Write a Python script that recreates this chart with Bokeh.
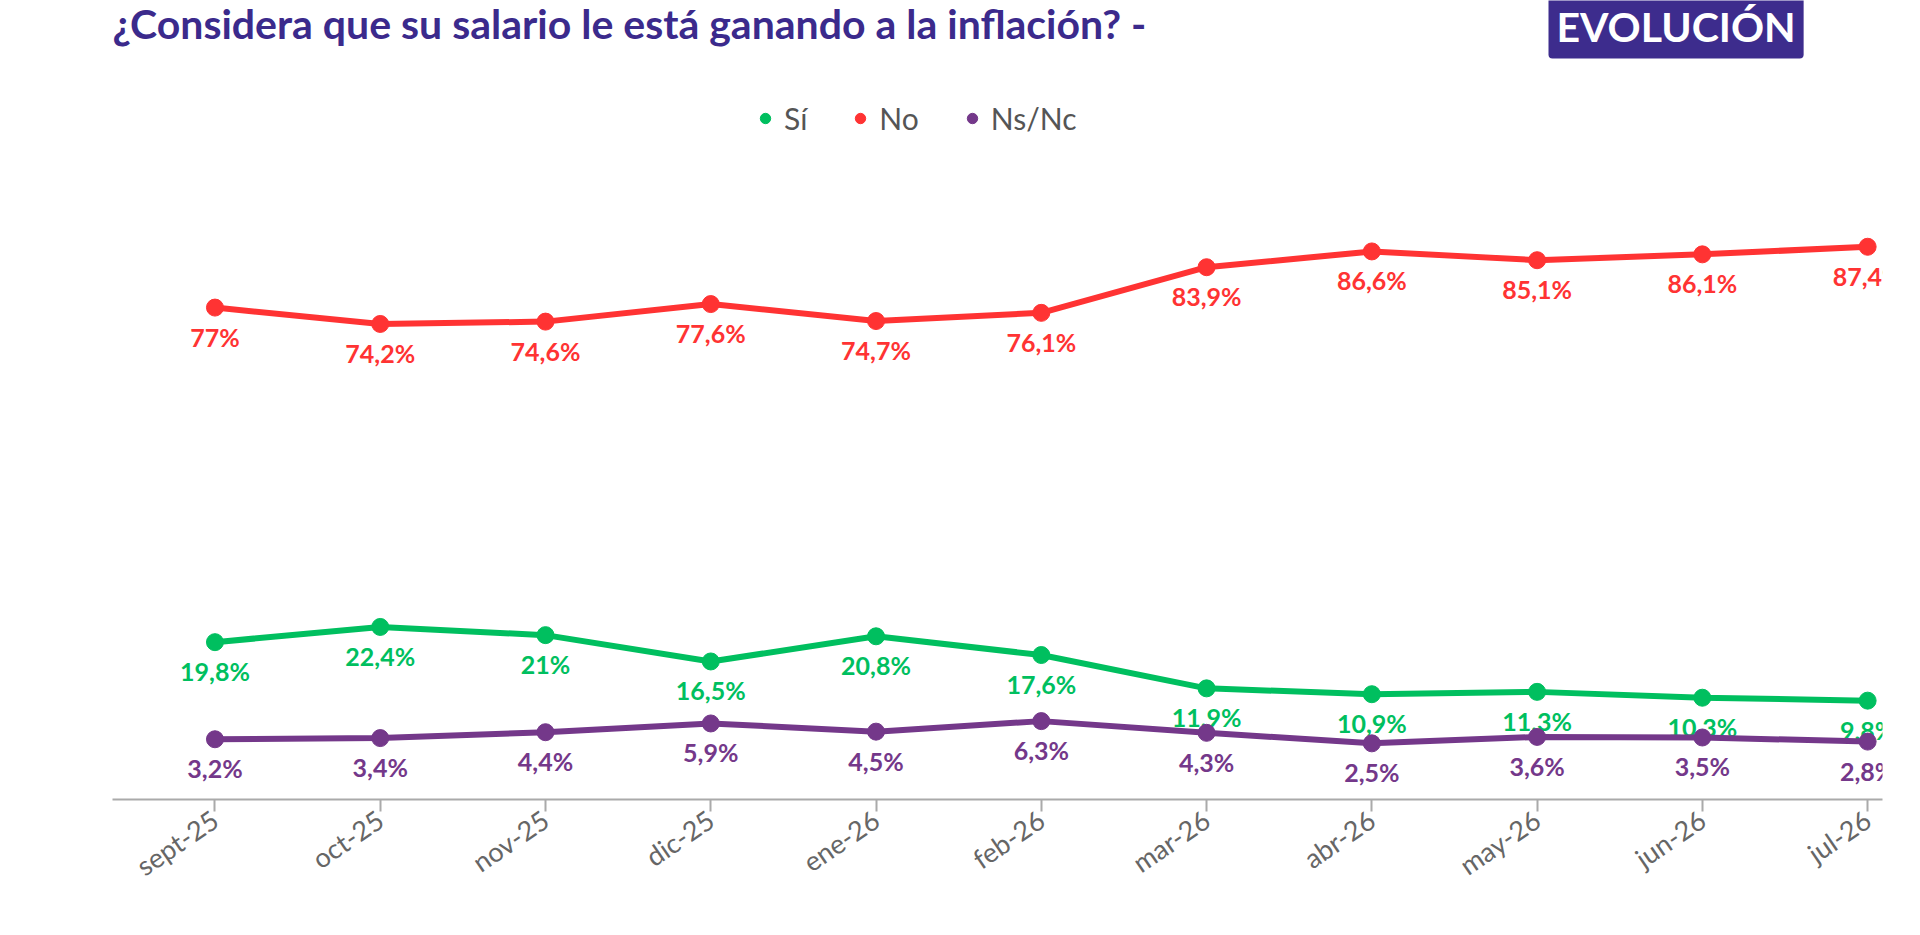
from bokeh.plotting import figure
from bokeh.models import ColumnDataSource, Label, Legend, LegendItem, Range1d, FixedTicker
from bokeh.embed import file_html
from bokeh.resources import INLINE

months = ["sept-25","oct-25","nov-25","dic-25","ene-26","feb-26","mar-26","abr-26","may-26","jun-26","jul-26"]
si = [19.8,22.4,21,16.5,20.8,17.6,11.9,10.9,11.3,10.3,9.8]
no = [77,74.2,74.6,77.6,74.7,76.1,83.9,86.6,85.1,86.1,87.4]
nsnc = [3.2,3.4,4.4,5.9,4.5,6.3,4.3,2.5,3.6,3.5,2.8]
series = [("Sí", si, "#00BF5F"), ("No", no, "#FF3333"), ("Ns/Nc", nsnc, "#74388A")]

def fmt(v):
    s = ("%g" % v).replace(".", ",")
    return s + "%"

W, H = 1904, 919
p = figure(width=W, height=H, output_backend="svg", toolbar_location=None,
           x_range=Range1d(-0.62, 10.09), y_range=Range1d(-7.1, 129.5),
           min_border_left=112, min_border_right=22, min_border_top=0, min_border_bottom=120)
p.outline_line_color = None
p.grid.visible = False
p.yaxis.visible = False
xs = list(range(len(months)))
p.xaxis.ticker = FixedTicker(ticks=xs)
p.xaxis.major_label_overrides = {i: m for i, m in enumerate(months)}
p.xaxis.major_label_orientation = 0.6
p.xaxis.major_label_text_font = "Lato"
p.xaxis.major_label_text_font_size = "27px"
p.xaxis.major_label_text_color = "#666666"
p.xaxis.axis_line_color = "#AAAAAA"
p.xaxis.axis_line_width = 2
p.xaxis.major_tick_line_color = "#AAAAAA"
p.xaxis.major_tick_line_width = 2
p.xaxis.major_tick_out = 12
p.xaxis.major_tick_in = 0
p.xaxis.minor_tick_line_color = None

items = []
for name, vals, col in series:
    src = ColumnDataSource(dict(x=xs, y=vals, t=[fmt(v) for v in vals]))
    p.line("x", "y", source=src, line_color=col, line_width=6)
    s = p.scatter("x", "y", source=src, size=17, color=col)
    p.text("x", "y", text="t", source=src, text_color=col, text_font_size="25px",
           text_font={"value": "Lato"}, text_font_style="bold", text_align="center",
           text_baseline="top", y_offset=14)
    items.append(LegendItem(label=name, renderers=[s]))

leg = Legend(items=items, orientation="horizontal", location=(640, 663),
             label_text_font="Lato", label_text_font_size="30px", label_text_color="#555555",
             background_fill_alpha=0, border_line_color=None, glyph_width=26, glyph_height=26,
             spacing=40, label_standoff=6)
p.add_layout(leg, "center")

p.add_layout(Label(x=0, y=752, x_units="screen", y_units="screen",
                   text="¿Considera que su salario le está ganando a la inflación? -",
                   text_font="Lato", text_font_style="bold", text_font_size="41px",
                   text_color="#3B2A8C"))
p.add_layout(Label(x=1436, y=741, x_units="screen", y_units="screen", text="EVOLUCIÓN",
                   text_font="Lato", text_font_style="bold", text_font_size="41px",
                   text_color="white", background_fill_color="#3D2C8D",
                   padding=8, border_radius=4))
p.add_layout(Label(x=-108, y=-118, x_units="screen", y_units="screen", text="Fuente: Zentrix",
                   text_font="Lato", text_font_style="bold", text_font_size="22px",
                   text_color="#111111"))

open("out.html", "w").write(file_html(p, INLINE))
